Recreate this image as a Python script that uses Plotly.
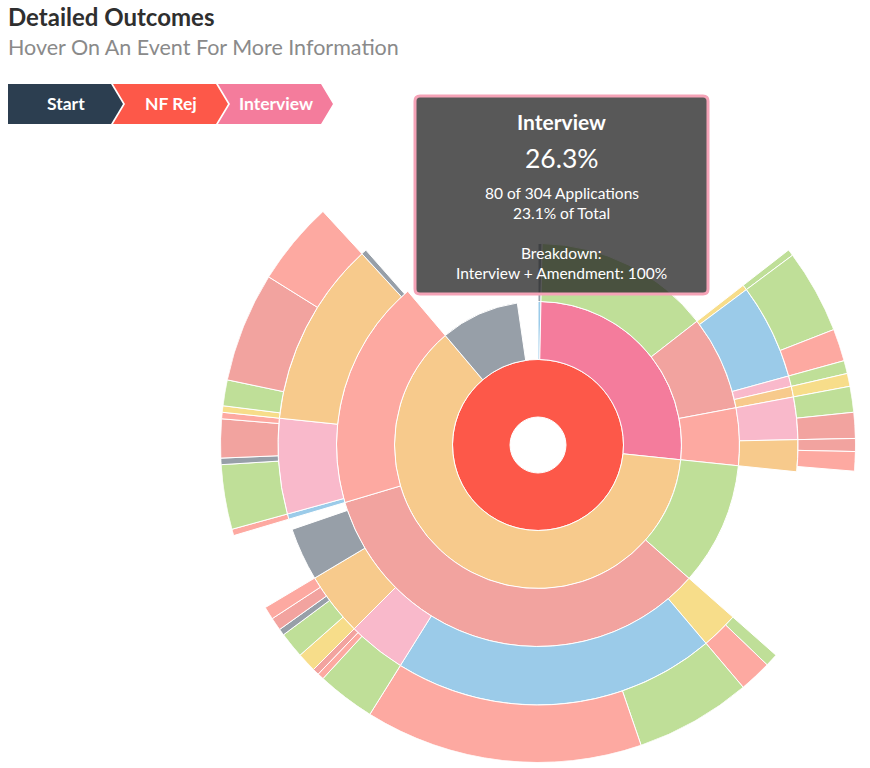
import plotly.graph_objects as go

W, H = 870, 768

# ---------------- data ----------------
# Each path is a sequence of events (root "NF Rej" forms the first ring; "Start" is the centre)
paths = [
    "NF Rej",
    "NF Rej/Review",
    "NF Rej/Review/Withdrawn",
    "NF Rej/Interview",
    "NF Rej/Interview/Approved",
    "NF Rej/Interview/Rejected",
    "NF Rej/Interview/Rejected/Deferred",
    "NF Rej/Interview/Rejected/Deferred/Approved",
    "NF Rej/Interview/Rejected/Review",
    "NF Rej/Interview/Rejected/Review/Approved",
    "NF Rej/Interview/Rejected/Review/Declined",
    "NF Rej/Interview/Rejected/Resubmission",
    "NF Rej/Interview/Rejected/Resubmission/Approved",
    "NF Rej/Interview/Rejected/Amendment",
    "NF Rej/Interview/Rejected/Amendment/Deferred",
    "NF Rej/Interview/Declined",
    "NF Rej/Interview/Declined/Resubmission",
    "NF Rej/Interview/Declined/Resubmission/Approved",
    "NF Rej/Interview/Declined/Resubmission/Rejected",
    "NF Rej/Interview/Declined/Amendment",
    "NF Rej/Interview/Declined/Amendment/Rejected",
    "NF Rej/Interview/Declined/Amendment/Declined",
    "NF Rej/Amendment",
    "NF Rej/Amendment/Approved",
    "NF Rej/Amendment/Rejected",
    "NF Rej/Amendment/Rejected/Deferred",
    "NF Rej/Amendment/Rejected/Deferred/Approved",
    "NF Rej/Amendment/Rejected/Deferred/Declined",
    "NF Rej/Amendment/Rejected/Review",
    "NF Rej/Amendment/Rejected/Review/Approved",
    "NF Rej/Amendment/Rejected/Review/Declined",
    "NF Rej/Amendment/Rejected/Resubmission",
    "NF Rej/Amendment/Rejected/Resubmission/Approved",
    "NF Rej/Amendment/Rejected/Resubmission/Declined",
    "NF Rej/Amendment/Rejected/Resubmission/Rejected",
    "NF Rej/Amendment/Rejected/Amendment",
    "NF Rej/Amendment/Rejected/Amendment/Deferred",
    "NF Rej/Amendment/Rejected/Amendment/Approved",
    "NF Rej/Amendment/Rejected/Amendment/Withdrawn",
    "NF Rej/Amendment/Rejected/Amendment/Rejected",
    "NF Rej/Amendment/Rejected/Amendment/Declined",
    "NF Rej/Amendment/Rejected/Withdrawn",
    "NF Rej/Amendment/Declined",
    "NF Rej/Amendment/Declined/Review",
    "NF Rej/Amendment/Declined/Review/Declined",
    "NF Rej/Amendment/Declined/Resubmission",
    "NF Rej/Amendment/Declined/Resubmission/Approved",
    "NF Rej/Amendment/Declined/Resubmission/Withdrawn",
    "NF Rej/Amendment/Declined/Resubmission/Rejected",
    "NF Rej/Amendment/Declined/Resubmission/Declined",
    "NF Rej/Amendment/Declined/Amendment",
    "NF Rej/Amendment/Declined/Amendment/Deferred",
    "NF Rej/Amendment/Declined/Amendment/Approved",
    "NF Rej/Amendment/Declined/Amendment/Rejected",
    "NF Rej/Amendment/Declined/Amendment/Declined",
    "NF Rej/Amendment/Declined/Withdrawn",
    "NF Rej/Withdrawn",
]
counts = [
    304,
    1, 1,
    80, 43, 23, 1, 1, 18, 13, 5, 2, 2, 2, 2, 14, 8, 4, 4, 6, 2, 3,
    189, 30, 103, 7, 2, 5, 61, 18, 43, 11, 9, 1, 1, 12, 3, 4, 1, 2, 2, 10,
    56, 1, 1, 18, 10, 1, 6, 1, 35, 1, 4, 17, 13, 1,
    27,
]
total_applications = 346
breadcrumb = ["Start", "NF Rej", "Interview"]
focus_path = "NF Rej/Interview"
breakdown_text = "Interview + Amendment: 100%"

# ---------------- styles ----------------
EVENT_COLORS = {
    "Start": "#2c3e50",
    "NF Rej": "#fd5849",
    "Interview": "#f47c9c",
    "Amendment": "#f7ca8c",
    "Withdrawn": "#979fa8",
    "Approved": "#bfdf98",
    "Rejected": "#f2a39f",
    "Declined": "#fda9a1",
    "Review": "#9bcbe9",
    "Resubmission": "#f9b9cb",
    "Deferred": "#f7dd8a",
}
RING_EDGES = [28, 85.5, 143.5, 201.5, 260, 317.5]
CX, CY = 538, 445
R = RING_EDGES[-1]
FONT = "Lato, 'Open Sans', sans-serif"

# ---------------- partition layout ----------------
deg_per_app = 360.0 / counts[0]
cursor = {}
thetas, widths, bases, thick, cols, hover = [], [], [], [], [], []
for p, c in zip(paths, counts):
    if "/" in p:
        parent = p.rsplit("/", 1)[0]
        s = cursor[parent]
        cursor[parent] += c * deg_per_app
    else:
        s = 0.0
    cursor[p] = s
    span = c * deg_per_app
    depth = p.count("/")
    ev = p.rsplit("/", 1)[-1]
    thetas.append(s + span / 2)
    widths.append(span)
    bases.append(RING_EDGES[depth])
    thick.append(RING_EDGES[depth + 1] - RING_EDGES[depth])
    cols.append(EVENT_COLORS[ev])
    hover.append(f"{ev}: {c}")

fig = go.Figure()
fig.add_trace(go.Barpolar(
    r=thick, base=bases, theta=thetas, width=widths,
    marker=dict(color=cols, line=dict(color="white", width=1)),
    hovertext=hover, hoverinfo="text", showlegend=False,
))


def px(x):
    return x / W


def py(y):
    return 1 - y / H


shapes = []
annotations = []

# title
annotations.append(dict(text="<b>Detailed Outcomes</b>", x=px(6), y=py(17), xref="paper", yref="paper",
                        xanchor="left", yanchor="middle", showarrow=False,
                        font=dict(family=FONT, size=24, color="#2f2f2f")))
annotations.append(dict(text="Hover On An Event For More Information", x=px(6), y=py(47), xref="paper",
                        yref="paper", xanchor="left", yanchor="middle", showarrow=False,
                        font=dict(family=FONT, size=21.5, color="#8a8a8a")))

# breadcrumb chevrons
BC_X0, BC_STEP, BC_W, BC_TIP, BC_TOP, BC_BOT = 8, 105, 103, 12, 84, 124
mid = (BC_TOP + BC_BOT) / 2
for i, name in enumerate(breadcrumb):
    x0 = BC_X0 + i * BC_STEP
    x1 = x0 + BC_W
    pts = [(x0, BC_TOP), (x1, BC_TOP), (x1 + BC_TIP, mid), (x1, BC_BOT), (x0, BC_BOT)]
    if i > 0:
        pts.append((x0 + BC_TIP, mid))
    path = "M " + " L ".join(f"{px(a):.5f},{py(b):.5f}" for a, b in pts) + " Z"
    shapes.append(dict(type="path", path=path, xref="paper", yref="paper",
                       fillcolor=EVENT_COLORS[name], line=dict(width=0), layer="above"))
    cx = x0 + 58
    annotations.append(dict(text=f"<b>{name}</b>", x=px(cx), y=py(mid), xref="paper", yref="paper",
                            xanchor="center", yanchor="middle", showarrow=False,
                            font=dict(family=FONT, size=17.5, color="white")))

# tooltip box
TX0, TX1, TY0, TY1, RAD = 415, 708, 96, 294, 5
tp = [
    f"M {px(TX0 + RAD)},{py(TY0)}",
    f"L {px(TX1 - RAD)},{py(TY0)}",
    f"Q {px(TX1)},{py(TY0)} {px(TX1)},{py(TY0 + RAD)}",
    f"L {px(TX1)},{py(TY1 - RAD)}",
    f"Q {px(TX1)},{py(TY1)} {px(TX1 - RAD)},{py(TY1)}",
    f"L {px(TX0 + RAD)},{py(TY1)}",
    f"Q {px(TX0)},{py(TY1)} {px(TX0)},{py(TY1 - RAD)}",
    f"L {px(TX0)},{py(TY0 + RAD)}",
    f"Q {px(TX0)},{py(TY0)} {px(TX0 + RAD)},{py(TY0)}",
    "Z",
]
shapes.append(dict(type="path", path=" ".join(tp), xref="paper", yref="paper",
                   fillcolor="rgba(36,36,36,0.76)", line=dict(color="#f5a3b7", width=3), layer="above"))

idx = paths.index(focus_path)
parent_idx = paths.index(focus_path.rsplit("/", 1)[0])
val = counts[idx]
pval = counts[parent_idx]
tcx = (TX0 + TX1) / 2
tip_lines = [
    (f"<b>{focus_path.rsplit('/', 1)[-1]}</b>", 121, 21),
    (f"{100 * val / pval:.1f}%", 158, 26.5),
    (f"{val} of {pval} Applications", 193, 15.5),
    (f"{100 * val / total_applications:.1f}% of Total", 213, 15.5),
    ("Breakdown:", 253, 15.5),
    (breakdown_text, 273, 15.5),
]
for txt, yy, fs in tip_lines:
    annotations.append(dict(text=txt, x=px(tcx), y=py(yy), xref="paper", yref="paper",
                            xanchor="center", yanchor="middle", showarrow=False,
                            font=dict(family=FONT, size=fs, color="white")))

fig.update_layout(
    width=W, height=H,
    margin=dict(l=0, r=0, t=0, b=0),
    paper_bgcolor="white", plot_bgcolor="white",
    polar=dict(
        domain=dict(x=[(CX - R) / W, (CX + R) / W], y=[1 - (CY + R) / H, 1 - (CY - R) / H]),
        bgcolor="rgba(0,0,0,0)",
        radialaxis=dict(visible=False, range=[0, R], showgrid=False),
        angularaxis=dict(visible=False, rotation=90, direction="clockwise", showgrid=False),
    ),
    shapes=shapes,
    annotations=annotations,
    showlegend=False,
)

fig.write_html("out.html")
